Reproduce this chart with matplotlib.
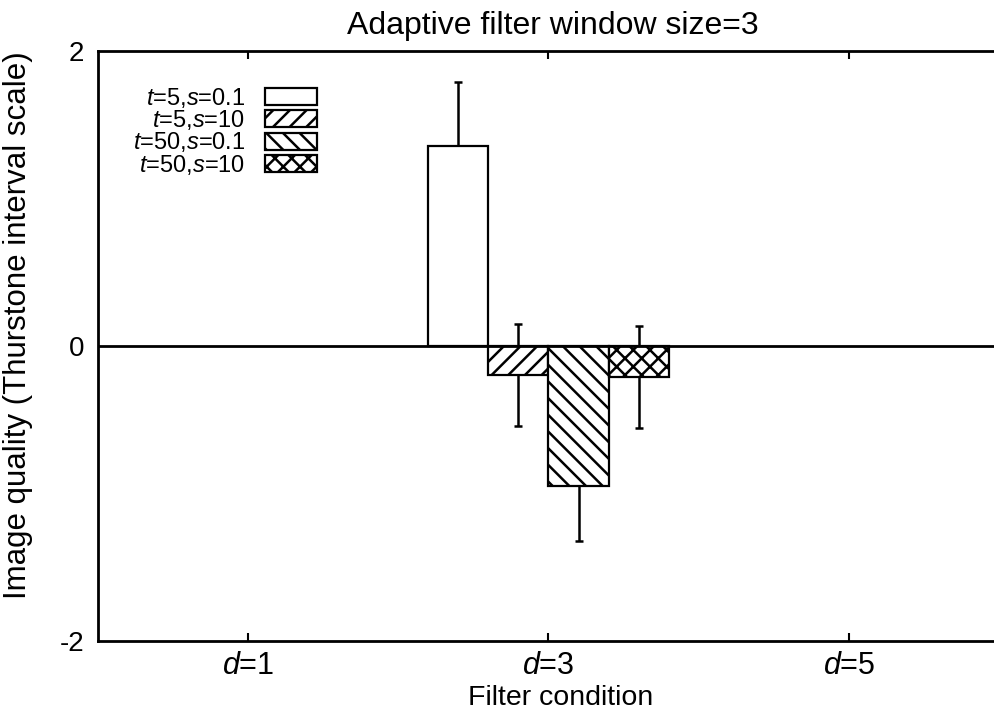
import numpy as np
import matplotlib
matplotlib.use('Agg')
import matplotlib.pyplot as plt


conditions = ['$d$=1', '$d$=3', '$d$=5']
series_labels = ['$t$=5,$s$=0.1', '$t$=5,$s$=10', '$t$=50,$s$=0.1', '$t$=50,$s$=10']
series_hatches = ['', '//', '\\\\', 'xx']

# only d=3 was measured
mean_t5_s01 = [np.nan, 1.354, np.nan]
mean_t5_s10 = [np.nan, -0.197, np.nan]
mean_t50_s01 = [np.nan, -0.946, np.nan]
mean_t50_s10 = [np.nan, -0.211, np.nan]

err_t5_s01 = [np.nan, 0.435, np.nan]
err_t5_s10 = [np.nan, 0.347, np.nan]
err_t50_s01 = [np.nan, 0.374, np.nan]
err_t50_s10 = [np.nan, 0.345, np.nan]

y_ticks = [-2, 0, 2]
y_tick_labels = ['-2', '0', '2']


def main():
    plt.rcParams['font.family'] = ['Liberation Sans', 'DejaVu Sans']
    plt.rcParams['mathtext.fontset'] = 'custom'
    plt.rcParams['mathtext.rm'] = 'Liberation Sans'
    plt.rcParams['mathtext.it'] = 'Liberation Sans:italic'
    plt.rcParams['hatch.linewidth'] = 1.8

    means = [mean_t5_s01, mean_t5_s10, mean_t50_s01, mean_t50_s10]
    errs = [err_t5_s01, err_t5_s10, err_t50_s01, err_t50_s10]

    fig = plt.figure(figsize=(9.95, 7.2), dpi=100)
    ax = fig.add_axes([0.0985, 0.1097, 0.9055, 0.8194])

    x = np.arange(len(conditions))
    width = 0.2
    offsets = (np.arange(len(means)) - (len(means) - 1) / 2) * width

    for m, e, off, lab, h in zip(means, errs, offsets, series_labels, series_hatches):
        ax.bar(x + off, m, width, color='white', edgecolor='black',
               linewidth=1.6, hatch=h, label=lab, zorder=2)
        ax.errorbar(x + off, m, yerr=e, fmt='none', ecolor='black',
                    elinewidth=1.8, capsize=3, capthick=1.8, zorder=1)

    ax.axhline(0, color='black', linewidth=2, zorder=3)

    ax.set_xlim(-0.5, 2.5)
    ax.set_ylim(-2, 2)
    ax.set_xticks(x)
    ax.set_xticklabels(conditions, fontsize=22)
    ax.set_yticks(y_ticks)
    ax.set_yticklabels(y_tick_labels, fontsize=20)
    ax.tick_params(axis='x', direction='in', top=True, length=6, width=1.5, pad=7)
    ax.tick_params(axis='y', length=0, pad=10)

    for side in ['left', 'bottom', 'top']:
        ax.spines[side].set_linewidth(2)
    ax.spines['right'].set_visible(False)

    ax.set_title('Adaptive filter window size=3', fontsize=23, pad=12, x=0.505)
    ax.set_xlabel('Filter condition', fontsize=20.5)
    ax.set_ylabel('Image quality (Thurstone interval scale)', fontsize=22.5)
    ax.xaxis.set_label_coords(0.514, -0.075)
    ax.yaxis.set_label_coords(-0.072, 0.536)

    leg = ax.legend(loc='upper right', bbox_to_anchor=(329 / 995, 1 - 74 / 720),
                    bbox_transform=fig.transFigure, frameon=False, fontsize=17,
                    markerfirst=False, borderpad=0, labelspacing=-0.07,
                    handlelength=2.2, handleheight=0.72, handletextpad=0.85)
    # right-align the label column against the swatches
    for col in leg._legend_handle_box.get_children():
        col.align = 'right'
    for p in leg.get_patches():
        p.set_linewidth(1.6)

    fig.savefig('out.png', dpi=100)


if __name__ == '__main__':
    main()
